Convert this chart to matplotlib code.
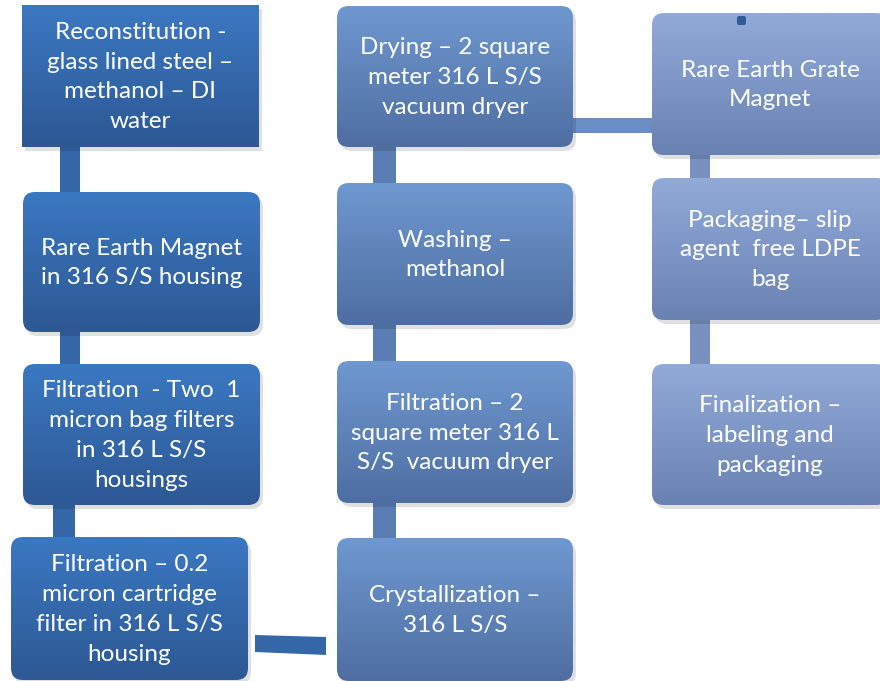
import numpy as np
import matplotlib
matplotlib.use("Agg")
import matplotlib.pyplot as plt
from matplotlib.patches import FancyBboxPatch, Rectangle, Polygon
from matplotlib.colors import to_rgb

plt.rcParams['font.family'] = ['Lato', 'DejaVu Sans']

# process steps, column by column (top to bottom)
col1_labels = [
    "Reconstitution -\nglass lined steel \u2013\nmethanol \u2013 DI\nwater",
    "Rare Earth Magnet\nin 316 S/S housing",
    "Filtration  - Two  1\nmicron bag filters\nin 316 L S/S\nhousings",
    "Filtration \u2013 0.2\nmicron cartridge\nfilter in 316 L S/S\nhousing",
]
col2_labels = [
    "Drying \u2013 2 square\nmeter 316 L S/S\nvacuum dryer",
    "Washing \u2013\nmethanol",
    "Filtration \u2013 2\nsquare meter 316 L\nS/S  vacuum dryer",
    "Crystallization \u2013\n316 L S/S",
]
col3_labels = [
    "Rare Earth Grate\nMagnet",
    "Packaging\u2013 slip\nagent  free LDPE\nbag",
    "Finalization \u2013\nlabeling and\npackaging",
]

# layout in pixels: (x0, x1, y0, y1)
col1_boxes = [(22, 259, 5, 147), (23, 260, 192, 332), (23, 260, 364, 505), (11, 248, 537, 680)]
col2_boxes = [(337, 573, 6, 147), (337, 573, 183, 325), (337, 573, 361, 503), (337, 573, 538, 681)]
col3_boxes = [(652, 888, 13, 155), (652, 888, 178, 320), (652, 888, 364, 505)]

col_colors = {
    1: ("#3b78c2", "#2d5894"),
    2: ("#6f98d0", "#4e6ea2"),
    3: ("#91aad8", "#6a82b2"),
}
link_colors = {1: "#3567a8", 2: "#5a7db3", 3: "#7890bf"}

W, H = 880, 681
fig = plt.figure(figsize=(W / 100, H / 100), dpi=100)
ax = fig.add_axes([0, 0, 1, 1])
ax.set_xlim(0, W)
ax.set_ylim(H, 0)
ax.axis('off')


def gradient_box(x0, x1, y0, y1, top, bottom, rounded=True):
    style = "round,pad=0,rounding_size=12" if rounded else "square,pad=0"
    # soft shadow
    sh = FancyBboxPatch((x0 + 3, y0 + 4), x1 - x0, y1 - y0, boxstyle=style,
                        fc="#000000", ec="none", alpha=0.12, zorder=2)
    ax.add_patch(sh)
    patch = FancyBboxPatch((x0, y0), x1 - x0, y1 - y0, boxstyle=style,
                           fc="none", ec="none", zorder=3)
    ax.add_patch(patch)
    t = np.array(to_rgb(top))
    b = np.array(to_rgb(bottom))
    f = np.linspace(0, 1, 100)[:, None, None]
    img = t * (1 - f) + b * f
    im = ax.imshow(img, extent=(x0, x1, y1, y0), aspect='auto', zorder=3,
                   interpolation='bilinear')
    im.set_clip_path(patch)


def vlink(x0, x1, y0, y1, color):
    ax.add_patch(Rectangle((x0, y0), x1 - x0, y1 - y0, fc=color, ec="none", zorder=1))


# connectors
vlink(60, 80, 140, 200, link_colors[1])
vlink(60, 80, 325, 372, link_colors[1])
vlink(53, 75, 498, 545, link_colors[1])
ax.add_patch(Polygon([(255, 635), (326, 637), (326, 655), (255, 652)],
                     closed=True, fc=link_colors[1], ec="none", zorder=1))
vlink(373, 396, 140, 190, link_colors[2])
vlink(373, 396, 318, 368, link_colors[2])
vlink(373, 396, 496, 545, link_colors[2])
ax.add_patch(Rectangle((565, 118), 95, 15, fc="#6a8dc4", ec="none", zorder=1))
vlink(690, 710, 148, 185, link_colors[3])
vlink(690, 710, 313, 371, link_colors[3])

groups = [(1, col1_labels, col1_boxes), (2, col2_labels, col2_boxes), (3, col3_labels, col3_boxes)]
for col, labels, boxes in groups:
    top, bottom = col_colors[col]
    for i, (lab, (x0, x1, y0, y1)) in enumerate(zip(labels, boxes)):
        gradient_box(x0, x1, y0, y1, top, bottom, rounded=not (col == 1 and i == 0))
        ax.text((x0 + x1) / 2, (y0 + y1) / 2 + 1, lab, ha='center', va='center',
                color='white', fontsize=17.5, linespacing=1.52, zorder=5)

# small handle marker on the top right box
ax.add_patch(FancyBboxPatch((737, 16), 9, 9, boxstyle="round,pad=0,rounding_size=2",
                            fc="#2f5b99", ec="none", zorder=6))

fig.savefig("out.png", dpi=100)
